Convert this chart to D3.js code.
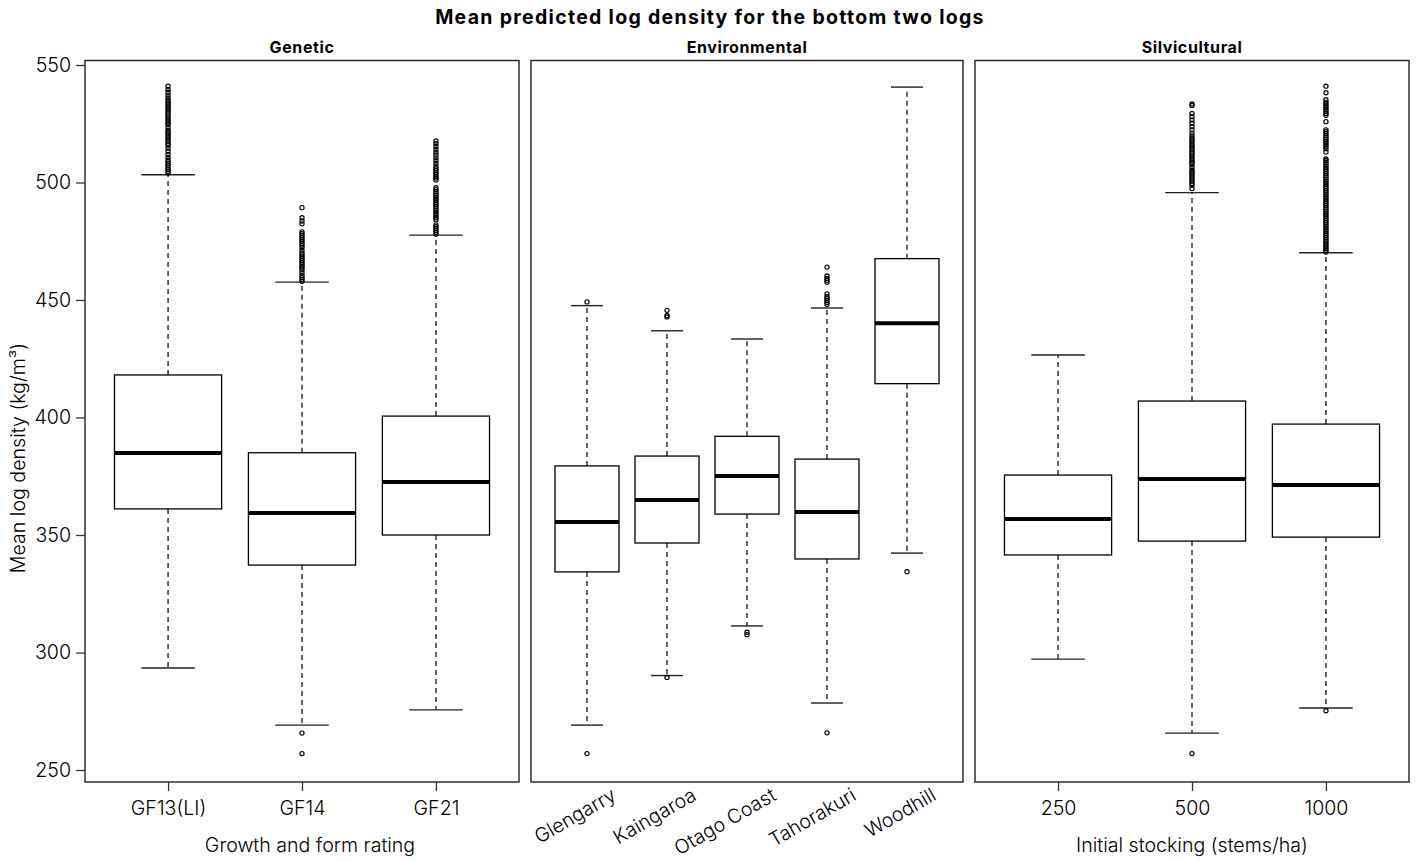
<!DOCTYPE html>
<html>
<head>
<meta charset="utf-8">
<script src="https://cdn.jsdelivr.net/npm/d3@7"></script>
<style>
  html, body { margin: 0; padding: 0; background: #fff; }
  svg text { font-family: Inter, "Liberation Sans", Arial, sans-serif; fill: #000; }
</style>
</head>
<body>
<svg id="chart" width="1418" height="861"></svg>
<script>
// ---------------- data ----------------
const chartTitle = "Mean predicted log density for the bottom two logs";
const yLabel = "Mean log density (kg/m³)";
const yTicks = [250, 300, 350, 400, 450, 500, 550];

const panelTitles = ["Genetic", "Environmental", "Silvicultural"];
const panelXTitles = ["Growth and form rating", "", "Initial stocking (stems/ha)"];

const geneticCats = ["GF13(LI)", "GF14", "GF21"];
// [lower whisker, Q1, median, Q3, upper whisker]
const geneticStats = [
  [293.4, 361.1, 384.9, 418.1, 503.3],
  [269.1, 337.2, 359.4, 385.0, 457.6],
  [275.6, 350.0, 372.6, 400.6, 477.6]
];
const geneticOutliers = [
  [541.0, 539.6, 538.4, 537.2, 536.0, 535.0, 534.2, 533.4, 532.6, 531.8, 531.0, 530.2, 529.4, 528.6, 527.8, 527.0, 526.2, 525.4, 524.6, 523.3, 522.2, 521.4, 520.6, 519.8, 519.0, 518.2, 517.4, 516.6, 515.8, 514.6, 513.3, 512.0, 510.7, 509.6, 508.8, 508.0, 507.2, 506.4, 505.6, 504.8, 504.0],
  [489.3, 485.0, 483.6, 482.4, 479.0, 478.2, 477.4, 476.6, 475.8, 475.0, 474.2, 473.4, 472.4, 471.2, 470.0, 469.2, 468.4, 467.6, 466.8, 466.0, 465.2, 464.4, 463.6, 462.8, 461.6, 460.4, 459.6, 458.8, 458.0, 265.7, 257.0],
  [517.7, 516.5, 515.3, 514.1, 512.9, 511.7, 510.5, 509.3, 508.1, 506.9, 505.9, 505.1, 504.3, 503.5, 502.7, 501.9, 501.1, 497.8, 497.0, 496.2, 495.4, 494.6, 493.8, 493.0, 492.2, 491.4, 490.6, 489.8, 489.0, 488.2, 487.4, 486.6, 485.8, 485.0, 484.2, 482.0, 481.2, 480.4, 479.6, 478.8, 478.0]
];

const envCats = ["Glengarry", "Kaingaroa", "Otago Coast", "Tahorakuri", "Woodhill"];
const envStats = [
  [269.1, 334.3, 355.5, 379.4, 447.6],
  [290.2, 346.6, 364.9, 383.6, 436.9],
  [311.3, 358.9, 375.1, 392.0, 433.4],
  [278.5, 339.8, 359.8, 382.3, 446.6],
  [342.3, 414.4, 440.1, 467.6, 540.6]
];
const envOutliers = [
  [449.2, 257.0],
  [445.6, 443.4, 442.8, 289.4],
  [308.6, 307.6],
  [464.0, 460.2, 459.2, 458.4, 457.6, 452.6, 451.4, 450.6, 449.8, 449.0, 448.2, 265.8],
  [334.4]
];

const silvCats = ["250", "500", "1000"];
const silvStats = [
  [297.2, 341.5, 356.8, 375.5, 426.6],
  [265.7, 347.4, 373.8, 407.0, 495.7],
  [276.4, 349.1, 371.3, 397.2, 470.1]
];
const silvOutliers = [
  [],
  [533.4, 532.8, 529.4, 528.0, 526.6, 525.2, 523.8, 522.4, 521.0, 519.8, 518.8, 518.0, 517.2, 516.4, 515.6, 514.8, 514.0, 513.2, 512.4, 511.6, 510.8, 510.0, 509.2, 508.4, 507.6, 506.4, 505.2, 504.4, 503.6, 502.8, 502.0, 501.2, 500.4, 499.6, 498.8, 497.4, 257.0],
  [541.0, 538.2, 535.2, 534.2, 533.4, 532.6, 531.8, 531.0, 530.2, 529.4, 528.6, 525.9, 522.4, 521.6, 520.8, 520.0, 519.2, 518.4, 517.6, 516.8, 516.0, 515.2, 514.4, 513.0, 510.0, 509.4, 508.6, 507.8, 507.0, 506.2, 505.4, 504.6, 503.8, 503.0, 502.2, 501.4, 500.6, 499.8, 499.0, 498.2, 497.4, 496.6, 495.8, 495.0, 494.2, 493.4, 492.6, 491.8, 491.0, 490.2, 489.4, 488.6, 487.8, 487.0, 486.2, 485.4, 484.6, 483.8, 483.0, 482.2, 481.4, 480.6, 479.8, 479.0, 478.2, 477.4, 476.6, 475.8, 475.0, 474.2, 473.4, 472.6, 471.8, 471.0, 470.4, 275.2]
];

// ---------------- layout ----------------
const svg = d3.select("#chart");
const plotTop = 60.5, plotBottom = 782;
const panelX = [[85, 519], [531, 963], [975, 1409]];
const FONT = "Inter, 'Liberation Sans', Arial, sans-serif";
const TICK_FS = "19.6px";

const y = d3.scaleLinear().domain([250, 550]).range([770, 65]);

const panels = [
  { cats: geneticCats, stats: geneticStats, outliers: geneticOutliers, rotate: false, titleShift: 8 },
  { cats: envCats, stats: envStats, outliers: envOutliers, rotate: true, titleShift: 0 },
  { cats: silvCats, stats: silvStats, outliers: silvOutliers, rotate: false, titleShift: 0 }
];

// main title
svg.append("text")
  .attr("x", 710).attr("y", 24)
  .attr("text-anchor", "middle")
  .style("font-size", "19.5px").style("font-weight", "700").style("letter-spacing", "1.3px")
  .text(chartTitle);

// y-axis label
svg.append("text")
  .attr("transform", "translate(25,458) rotate(-90)")
  .attr("text-anchor", "middle")
  .style("font-size", TICK_FS).style("font-weight", "300")
  .text(yLabel);

// y axis (left of first panel)
const yAxis = d3.axisLeft(y).tickValues(yTicks).tickSize(9).tickPadding(5);
const yg = svg.append("g").attr("transform", `translate(${panelX[0][0]},0)`).call(yAxis);
yg.select(".domain").remove();
yg.selectAll(".tick line").attr("stroke", "#333").attr("stroke-width", 1.3);
yg.selectAll(".tick text").style("font-size", TICK_FS).style("font-weight", "300").style("font-family", FONT).attr("fill", "#000");

panels.forEach((p, i) => {
  const [x0, x1] = panelX[i];
  const n = p.cats.length;
  const x = d3.scalePoint().domain(p.cats).range([x0, x1]).padding(0.5 + 0.04 * n);
  const step = x.step();
  const bw = 0.8 * step;
  const cw = 0.4 * step;
  const g = svg.append("g");

  // strip title
  svg.append("text")
    .attr("x", (x0 + x1) / 2).attr("y", 53)
    .attr("text-anchor", "middle")
    .style("font-size", "16px").style("font-weight", "700").style("letter-spacing", "0.6px")
    .text(panelTitles[i]);

  p.cats.forEach((c, j) => {
    const s = p.stats[j];
    const cx = x(c);
    // whiskers
    g.append("line").attr("x1", cx).attr("x2", cx).attr("y1", y(s[3])).attr("y2", y(s[4]))
      .attr("stroke", "#000").attr("stroke-width", 1.2).attr("stroke-dasharray", "5,4");
    g.append("line").attr("x1", cx).attr("x2", cx).attr("y1", y(s[1])).attr("y2", y(s[0]))
      .attr("stroke", "#000").attr("stroke-width", 1.2).attr("stroke-dasharray", "5,4");
    // caps
    [s[0], s[4]].forEach(v => {
      g.append("line").attr("x1", cx - cw / 2).attr("x2", cx + cw / 2).attr("y1", y(v)).attr("y2", y(v))
        .attr("stroke", "#222").attr("stroke-width", 1.4);
    });
    // box
    g.append("rect").attr("x", cx - bw / 2).attr("width", bw)
      .attr("y", y(s[3])).attr("height", y(s[1]) - y(s[3]))
      .attr("fill", "#fff").attr("stroke", "#000").attr("stroke-width", 1.3);
    // median
    g.append("line").attr("x1", cx - bw / 2).attr("x2", cx + bw / 2).attr("y1", y(s[2])).attr("y2", y(s[2]))
      .attr("stroke", "#000").attr("stroke-width", 4);
    // outliers
    g.selectAll(null).data(p.outliers[j]).enter().append("circle")
      .attr("cx", cx).attr("cy", d => y(d)).attr("r", 2.1)
      .attr("fill", "none").attr("stroke", "#000").attr("stroke-width", 1.15);
  });

  // panel frame
  svg.append("rect").attr("x", x0).attr("y", plotTop).attr("width", x1 - x0).attr("height", plotBottom - plotTop)
    .attr("fill", "none").attr("stroke", "#222").attr("stroke-width", 1.4);

  // x axis
  const xAxis = d3.axisBottom(x).tickSize(p.rotate ? 0 : 9).tickPadding(p.rotate ? 0 : 10);
  const xg = svg.append("g").attr("transform", `translate(0,${plotBottom})`).call(xAxis);
  xg.select(".domain").remove();
  xg.selectAll(".tick line").attr("stroke", "#333").attr("stroke-width", 1.3);
  xg.selectAll(".tick text").style("font-size", TICK_FS).style("font-weight", "300").style("font-family", FONT).attr("fill", "#000");
  if (p.rotate) {
    xg.selectAll(".tick text")
      .attr("text-anchor", "end")
      .attr("dy", null)
      .attr("y", 0)
      .attr("transform", "translate(30,17) rotate(-30)");
  } else {
    xg.selectAll(".tick text").attr("dy", "0.71em");
  }
  if (panelXTitles[i]) {
    svg.append("text")
      .attr("x", (x0 + x1) / 2 + p.titleShift).attr("y", 852)
      .attr("text-anchor", "middle")
      .style("font-size", TICK_FS).style("font-weight", "300")
      .text(panelXTitles[i]);
  }
});
</script>
</body>
</html>
